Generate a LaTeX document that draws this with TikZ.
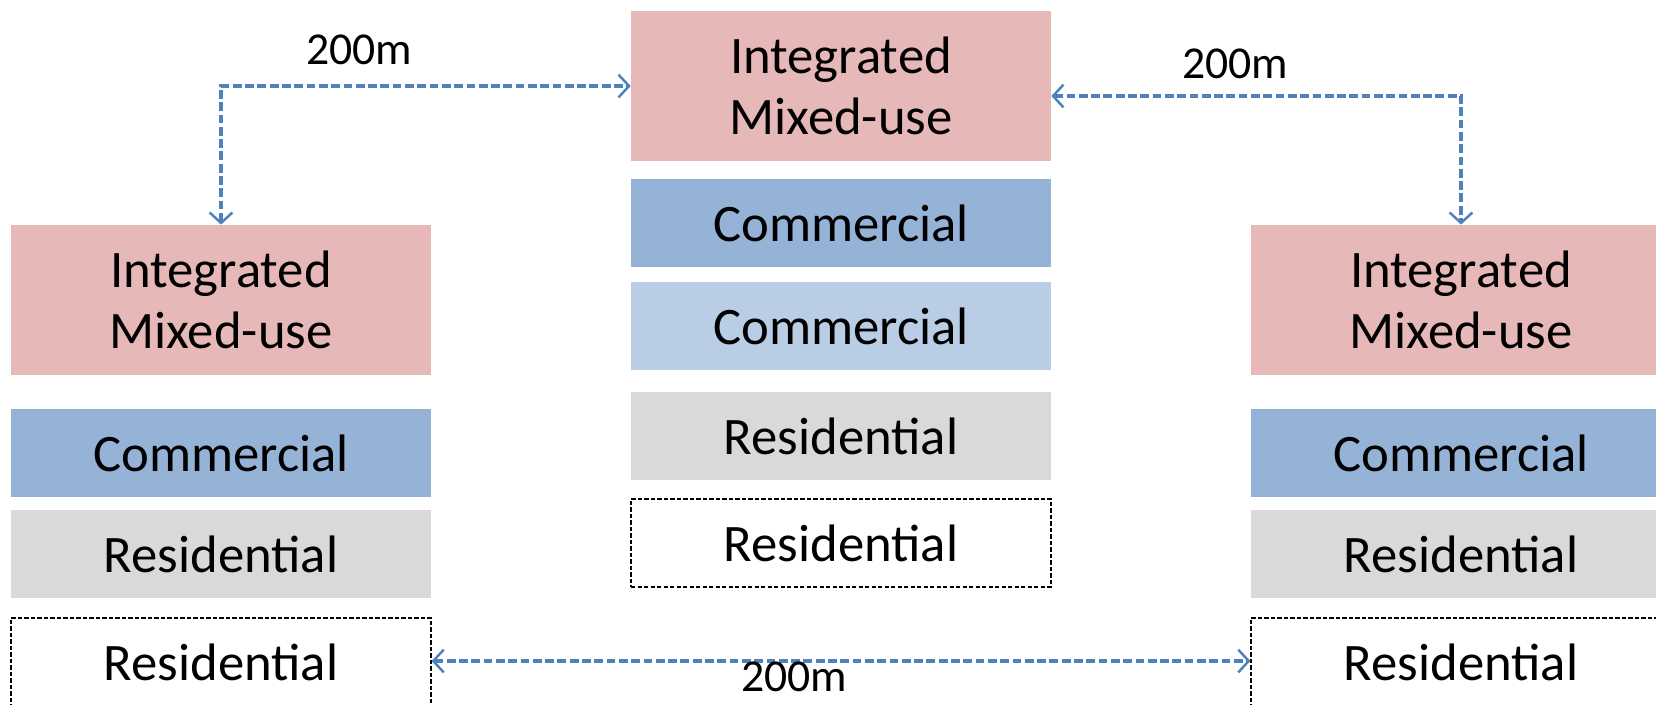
\documentclass[tikz,border=0pt]{standalone}
\usepackage{fontspec}
\setmainfont{Carlito}
\usetikzlibrary{arrows.meta}
\definecolor{mixpink}{HTML}{E6B8B7}
\definecolor{comblue}{HTML}{95B3D7}
\definecolor{comlight}{HTML}{B9CDE5}
\definecolor{resgray}{HTML}{D9D9D9}
\definecolor{dimblue}{HTML}{4F81BD}
\tikzset{
  block/.style={rectangle, minimum width=8.4cm, minimum height=1.76cm, inner sep=0pt, align=center, font=\fontsize{30}{35}\selectfont},
  mixed/.style={block, fill=mixpink, minimum height=3cm},
  comm/.style={block, fill=comblue},
  commlight/.style={block, fill=comlight},
  resi/.style={block, fill=resgray},
  resiopen/.style={block, draw=black, line width=0.7pt, dash pattern=on 2.5pt off 1.2pt},
  dimline/.style={draw=dimblue, line width=2.2pt, dash pattern=on 5pt off 2pt},
  dimlabel/.style={inner sep=0pt, font=\fontsize{26}{30}\selectfont}
}
\begin{document}
\begin{tikzpicture}[x=0.02cm,y=-0.02cm,>={Straight Barb[length=6pt,width=13pt,line width=1.4pt]}]
   \useasboundingbox (0,0) rectangle (1656,704);

   % left block
   \node[mixed]    (lIM)   at (221,300) {Integrated\\Mixed-use};
   \node[comm]     (lCom)  at (221,453) {Commercial};
   \node[resi]     (lRes)  at (221,554) {Residential};
   \node[resiopen] (lResD) at (221,662) {Residential};

   % centre block
   \node[mixed]     (cIM)   at (841,86)  {Integrated\\Mixed-use};
   \node[comm]      (cCom)  at (841,223) {Commercial};
   \node[commlight] (cCom2) at (841,326) {Commercial};
   \node[resi]      (cRes)  at (841,436) {Residential};
   \node[resiopen]  (cResD) at (841,543) {Residential};

   % right block
   \node[mixed]    (rIM)   at (1461,300) {Integrated\\Mixed-use};
   \node[comm]     (rCom)  at (1461,453) {Commercial};
   \node[resi]     (rRes)  at (1461,554) {Residential};
   \node[resiopen] (rResD) at (1461,662) {Residential};

   % distances
   \draw[dimline,<->] (lIM.north) |- (cIM.west);
   \draw[dimline,<->] ([yshift=-0.2cm]cIM.east) -| (rIM.north);
   \draw[dimline,<->] ([yshift=0.02cm]lResD.east) -- ([yshift=0.02cm]rResD.west);

   \node[dimlabel] (dA) at (359,50)  {200m};
   \node[dimlabel] (dB) at (1235,64) {200m};
   \node[dimlabel] (dC) at (794,677) {200m};
\end{tikzpicture}
\end{document}
